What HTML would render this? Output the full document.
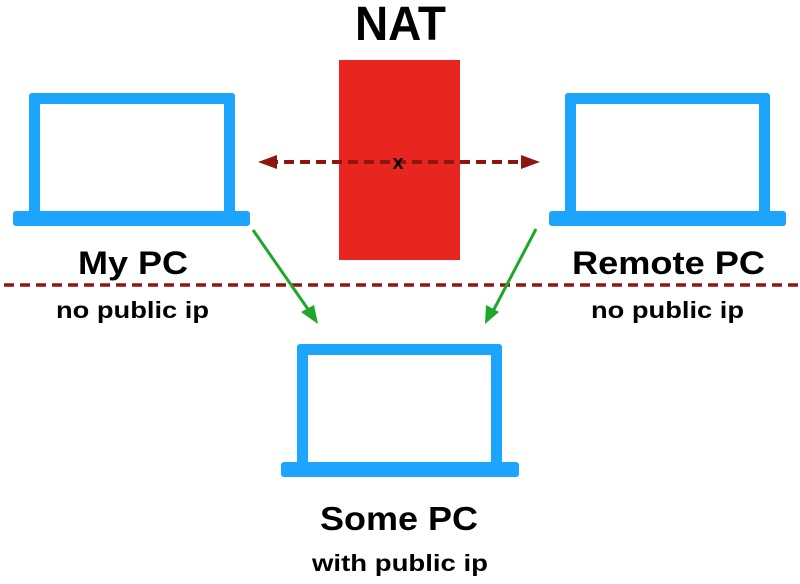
<!DOCTYPE html>
<html><head><meta charset="utf-8"><style>
html,body{margin:0;padding:0;background:#fff;}
svg{display:block;}
text{font-family:"Liberation Sans",Arial,sans-serif;font-weight:bold;fill:#000;}
</style></head><body>
<svg width="800" height="584" viewBox="0 0 800 584" xmlns="http://www.w3.org/2000/svg">
<g fill="#1da4fc">
<path fill-rule="evenodd" d="M32,93 H232 a3,3 0 0 1 3,3 V213 H29 V96 a3,3 0 0 1 3,-3 Z M40,104 V212 H224 V104 Z"/>
<rect x="13" y="211" width="237" height="15" rx="3"/>
<path fill-rule="evenodd" d="M568,93 H767 a3,3 0 0 1 3,3 V213 H565 V96 a3,3 0 0 1 3,-3 Z M576,104 V212 H759 V104 Z"/>
<rect x="549" y="211" width="237" height="15" rx="3"/>
<path fill-rule="evenodd" d="M300,344 H499 a3,3 0 0 1 3,3 V464 H297 V347 a3,3 0 0 1 3,-3 Z M308,355 V463 H491 V355 Z"/>
<rect x="281" y="462" width="238" height="15" rx="3"/>
</g>
<rect x="339" y="60" width="121" height="200" fill="#e8261f"/>
<text x="355" y="40" font-size="48" textLength="91" lengthAdjust="spacingAndGlyphs">NAT</text>
<line x1="268" y1="162" x2="532" y2="162" stroke="#8e1510" stroke-width="4" stroke-dasharray="10,6"/>
<path d="M258,162 L277,155 L277,169 Z" fill="#8e1510"/>
<path d="M540,162 L521,155 L521,169 Z" fill="#8e1510"/>
<text x="398" y="169" font-size="20" text-anchor="middle">x</text>
<line x1="4" y1="285" x2="800" y2="285" stroke="#8e1510" stroke-width="3.5" stroke-dasharray="10,6"/>
<line x1="253" y1="230" x2="312" y2="315" stroke="#1fa72a" stroke-width="3"/>
<path d="M318,324 L301,312 L314,305 Z" fill="#1fa72a"/>
<line x1="536" y1="229" x2="491" y2="315" stroke="#1fa72a" stroke-width="3"/>
<path d="M485,324 L486,305 L499,312 Z" fill="#1fa72a"/>
<text x="78" y="274" font-size="32" textLength="110" lengthAdjust="spacingAndGlyphs">My PC</text>
<text x="56" y="318" font-size="23" textLength="153" lengthAdjust="spacingAndGlyphs">no public ip</text>
<text x="572" y="274" font-size="32" textLength="193" lengthAdjust="spacingAndGlyphs">Remote PC</text>
<text x="591" y="318" font-size="23" textLength="153" lengthAdjust="spacingAndGlyphs">no public ip</text>
<text x="320" y="530" font-size="33" textLength="158" lengthAdjust="spacingAndGlyphs">Some PC</text>
<text x="312" y="571" font-size="23" textLength="176" lengthAdjust="spacingAndGlyphs">with public ip</text>
</svg>
</body></html>
